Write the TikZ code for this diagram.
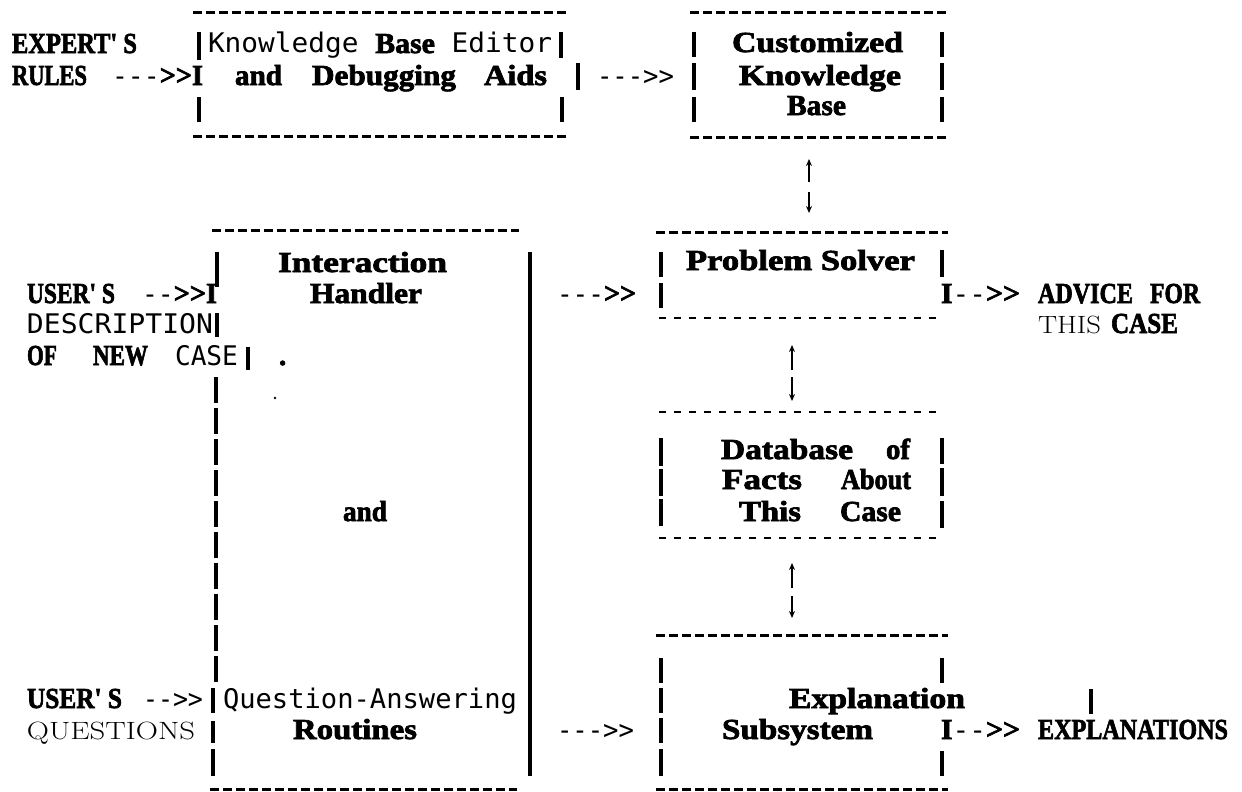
\documentclass[tikz,border=0pt]{standalone}
\usepackage{fontspec}
\usepackage{graphicx}
\usetikzlibrary{arrows.meta}
\newfontfamily\bsf{Liberation Serif}[BoldFeatures={FakeBold=2.4}]
\newfontfamily\monof{DejaVu Sans Mono}
\newcommand{\fntB}{\bsf\bfseries\fontsize{29}{31}\selectfont}
\newcommand{\fntM}{\monof\mdseries\fontsize{27}{30}\selectfont}
\newcommand{\fntR}{\rmfamily\mdseries\fontsize{25}{30}\selectfont}
\newcommand{\fitw}[2]{\resizebox{#1pt}{\height}{#2}}
\newcommand{\apos}{\textquotesingle}
\begin{document}
\begin{tikzpicture}[x=1pt,y=-1pt,
  tx/.style={anchor=base west,inner sep=0pt,outer sep=0pt},
  vbar/.style={line width=3.3pt},
  vline/.style={line width=4pt},
  vdash/.style={line width=3.5pt,dash pattern=on 26pt off 5pt},
  hdash/.style={line width=3pt,dash pattern=on 9pt off 4pt},
  ldash/.style={line width=2pt,dash pattern=on 7pt off 8pt},
  updn/.style={line width=1.7pt,-{Stealth[length=7pt,width=6pt]}}]
\fill[white] (0,0) rectangle (1242,792);
\useasboundingbox (0,0) rectangle (1242,792);

% ---------- top-left box: Knowledge Base Editor ----------
\draw[hdash] (193,13) -- (567,13);
\draw[hdash] (193,136) -- (567,136);
\draw[vbar] (199,32) -- (199,60);
\draw[vbar] (199,97) -- (199,122);
\draw[vbar] (561,32) -- (561,58);
\draw[vbar] (578,63) -- (578,90);
\draw[vbar] (562,97) -- (562,122);
\node[tx] (expert) at (12,53) {\fitw{125}{\fntB EXPERT\apos\ S}};
\node[tx] (rules) at (12,85) {\fitw{75}{\fntB RULES}};
\node[tx] (arr1) at (112,85) {\fitw{91}{\fntM-{}-{}-\fntB>{}>I}};
\node[tx] (kbe) at (208,53) {\fitw{344}{\fntM Knowledge \fntB Base\fntM\ Editor}};
\node[tx] (and1) at (235,85) {\fitw{47}{\fntB and}};
\node[tx] (debug) at (312,85) {\fitw{144}{\fntB Debugging}};
\node[tx] (aids) at (484,85) {\fitw{63}{\fntB Aids}};
\node[tx] (arr2) at (597,85) {\fitw{77}{\fntM-{}-{}->{}>}};

% ---------- Customized Knowledge Base ----------
\draw[hdash] (690,13) -- (948,13);
\draw[hdash] (690,137) -- (948,137);
\foreach \yy/\zz in {32/57,63/90,97/122}{
  \draw[vbar] (694,\yy) -- (694,\zz);
  \draw[vbar] (942,\yy) -- (942,\zz);}
\node[tx] (cust) at (732,52) {\fitw{171}{\fntB Customized}};
\node[tx] (know) at (739,85) {\fitw{162}{\fntB Knowledge}};
\node[tx] (base) at (787,115) {\fitw{59}{\fntB Base}};

% up/down arrows
\coordinate (a1a) at (809,182); \coordinate (a1b) at (809,159);
\coordinate (a1c) at (809,192); \coordinate (a1d) at (809,213);
\draw[updn] (a1a) -- (a1b);
\draw[updn] (a1c) -- (a1d);
\coordinate (a2a) at (792,370); \coordinate (a2b) at (792,345);
\coordinate (a2c) at (792,377); \coordinate (a2d) at (792,401);
\draw[updn] (a2a) -- (a2b);
\draw[updn] (a2c) -- (a2d);
\coordinate (a3a) at (792,588); \coordinate (a3b) at (792,563);
\coordinate (a3c) at (792,596); \coordinate (a3d) at (792,618);
\draw[updn] (a3a) -- (a3b);
\draw[updn] (a3c) -- (a3d);

% ---------- big left box: Interaction Handler / Question-Answering ----------
\draw[hdash] (212,230) -- (519,230);
\draw[hdash] (210,789) -- (517,789);
\draw[vbar] (217,252) -- (217,287);
\draw[vbar] (217,313) -- (217,337);
\draw[vbar] (248,347) -- (248,370);
\draw[vdash] (216,377) -- (216,684);
\draw[vbar] (213,688) -- (213,713);
\draw[vbar] (213,721) -- (213,743);
\draw[vbar] (213,749) -- (213,776);
\draw[vline] (530,252) -- (530,776);
\node[tx] (inter) at (278,272) {\fitw{169}{\fntB Interaction}};
\node[tx] (handler) at (310,303) {\fitw{112}{\fntB Handler}};
\node[tx] (user1) at (27,303) {\fitw{88}{\fntB USER\apos\ S}};
\node[tx] (arr3) at (142,303) {\fitw{75}{\fntM-{}-\fntB>{}>I}};
\node[tx] (desc) at (27,333) {\fitw{186}{\fntM DESCRIPTION}};
\node[tx] (of1) at (27,365) {\fitw{30}{\fntB OF}};
\node[tx] (new) at (93,365) {\fitw{55}{\fntB NEW}};
\node[tx] (case1) at (175,365) {\fitw{63}{\fntM CASE}};
\node[tx] (dot1) at (279,365) {\fntB .};
\fill (275,398) circle (1.3pt);
\node[tx] (and2) at (343,521) {\fitw{44}{\fntB and}};
\node[tx] (user2) at (27,708) {\fitw{95}{\fntB USER\apos\ S}};
\node[tx] (arr4) at (143,708) {\fitw{60}{\fntM-{}->{}>}};
\node[tx] (qa) at (223,708) {\fitw{294}{\fntM Question-Answering}};
\node[tx] (quest) at (27,739) {\fitw{168}{\fntR QUESTIONS}};
\node[tx] (routines) at (293,739) {\fitw{124}{\fntB Routines}};

% middle arrows
\node[tx] (arr5) at (557,303) {\fitw{79}{\fntM-{}-{}-\fntB>{}>}};
\node[tx] (arr6) at (557,739) {\fitw{77}{\fntM-{}-{}->{}>}};

% ---------- Problem Solver ----------
\draw[hdash] (656,232) -- (948,232);
\draw[ldash] (659,318) -- (938,318);
\draw[vbar] (661,252) -- (661,277);
\draw[vbar] (661,283) -- (661,308);
\draw[vbar] (942,250) -- (942,277);
\node[tx] (ps) at (686,270) {\fitw{229}{\fntB Problem Solver}};
\node[tx] (arr7) at (941,303) {\fitw{79}{\fntB I\fntM-{}-\fntB>{}>}};
\node[tx] (advice) at (1038,303) {\fitw{95}{\fntB ADVICE}};
\node[tx] (for) at (1150,303) {\fitw{50}{\fntB FOR}};
\node[tx] (this1) at (1038,333) {\fitw{63}{\fntR THIS}};
\node[tx] (case2) at (1111,333) {\fitw{67}{\fntB CASE}};

% ---------- Database of Facts ----------
\draw[ldash] (659,412) -- (938,412);
\draw[ldash] (659,538) -- (938,538);
\foreach \yy/\zz in {438/466,469/496,499/526}{\draw[vbar] (661,\yy) -- (661,\zz);}
\foreach \yy/\zz in {438/464,468/496,501/528}{\draw[vbar] (942,\yy) -- (942,\zz);}
\node[tx] (database) at (721,459) {\fitw{132}{\fntB Database}};
\node[tx] (of2) at (886,459) {\fitw{24}{\fntB of}};
\node[tx] (facts) at (722,489) {\fitw{80}{\fntB Facts}};
\node[tx] (about) at (841,489) {\fitw{70}{\fntB About}};
\node[tx] (this2) at (739,521) {\fitw{62}{\fntB This}};
\node[tx] (case3) at (840,521) {\fitw{61}{\fntB Case}};

% ---------- Explanation Subsystem ----------
\draw[hdash] (656,635) -- (948,635);
\draw[hdash] (656,789) -- (948,789);
\foreach \yy/\zz in {658/683,688/713,718/743,749/776}{\draw[vbar] (661,\yy) -- (661,\zz);}
\draw[vbar] (942,658) -- (942,683);
\draw[vbar] (942,751) -- (942,776);
\draw[vbar] (1091,689) -- (1091,714);
\node[tx] (expl) at (789,708) {\fitw{176}{\fntB Explanation}};
\node[tx] (subsys) at (722,739) {\fitw{151}{\fntB Subsystem}};
\node[tx] (arr8) at (941,739) {\fitw{79}{\fntB I\fntM-{}-\fntB>{}>}};
\node[tx] (explns) at (1038,739) {\fitw{190}{\fntB EXPLANATIONS}};
\end{tikzpicture}
\end{document}
